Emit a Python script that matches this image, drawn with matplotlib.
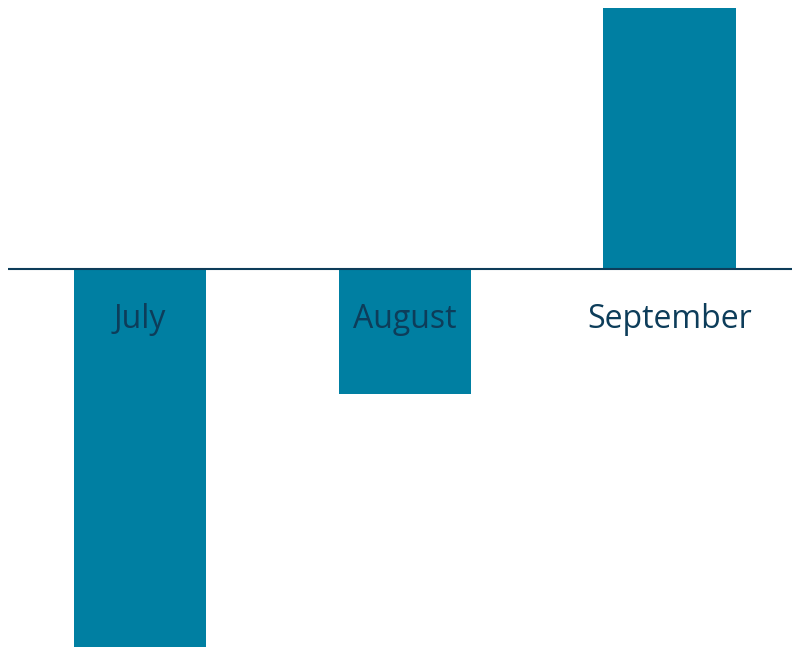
import numpy as np
import matplotlib.pyplot as plt

months = ['July', 'August', 'September']
values = [-3.0, -0.99, 2.07]

BAR_COLOR = '#007fa2'
TEXT_COLOR = '#0d3d5a'

plt.rcParams['font.family'] = ['Open Sans', 'DejaVu Sans']

fig = plt.figure(figsize=(7.92, 6.47), dpi=100)
ax = fig.add_axes([8 / 792, 0, 784 / 792, 1])

x = np.arange(len(months))
ax.bar(x, values, width=0.5, color=BAR_COLOR)
ax.axhline(0, color=TEXT_COLOR, linewidth=1.5)

for xi, name in zip(x, months):
    ax.text(xi, -0.40, name, ha='center', va='center', fontsize=23, color=TEXT_COLOR)

ax.set_xlim(-0.4986, 784 / 264.75 - 0.4986)
ax.set_ylim(-3.0, 269 / 126)
ax.axis('off')

fig.savefig('out.png', dpi=100)
